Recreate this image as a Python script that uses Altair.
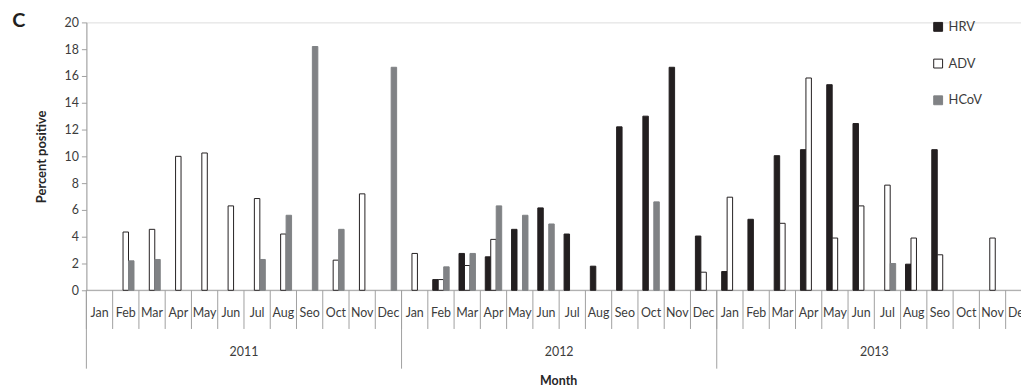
import altair as alt
import pandas as pd

months = ["Jan", "Feb", "Mar", "Apr", "May", "Jun", "Jul", "Aug", "Seo", "Oct", "Nov", "Dec"]
years = ["2011", "2012", "2013"]
series = ["HRV", "ADV", "HCoV"]

hrv = [None, None, None, None, None, None, None, None, None, None, None, None,
       None, 0.8, 2.75, 2.5, 4.55, 6.15, 4.2, 1.8, 12.2, 13.0, 16.65, 4.05,
       1.4, 5.3, 10.05, 10.5, 15.35, 12.45, None, 1.95, 10.5, None, None, None]
adv = [None, 4.35, 4.55, 10.0, 10.25, 6.3, 6.85, 4.2, None, 2.25, 7.2, None,
       2.75, 0.8, 1.85, 3.8, None, None, None, None, None, None, None, 1.35,
       6.95, None, 5.0, 15.85, 3.9, 6.3, 7.85, 3.9, 2.65, None, 3.9, None]
hcov = [None, 2.2, 2.3, None, None, None, 2.3, 5.6, 18.2, 4.55, None, 16.65,
        None, 1.75, 2.75, 6.3, 5.6, 4.95, None, None, None, 6.6, None, None,
        None, None, None, None, None, None, 2.0, None, None, None, None, None]

fills = ["#231f20", "#ffffff", "#808285"]
strokes = ["#231f20", "#231f20", "#808285"]

keys = [f"{y} {m}" for y in years for m in months]
rows = []
for i, k in enumerate(keys):
    for s, vals in zip(series, [hrv, adv, hcov]):
        if vals[i] is not None:
            rows.append({"key": k, "series": s, "value": vals[i]})
bars_df = pd.DataFrame(rows)
labels_df = pd.DataFrame({"key": keys, "month": [m for y in years for m in months]})

n_months = len(keys)
month_bounds = pd.DataFrame({"pos": list(range(0, n_months + 1))})
year_bounds = pd.DataFrame({"pos": list(range(0, n_months + 1, len(months)))})
year_df = pd.DataFrame({"pos": [len(months) * (i + 0.5) for i in range(len(years))], "year": years})
one = pd.DataFrame({"a": [0]})

W = 942      # visible plot width (chart is cut at the right edge, as in the reference)
FULL = 953   # full extent of the 36 months
H = 270
GRAY = "#a0a0a0"
TXT = "#3c3c3c"

xband = alt.X("key:N", scale=alt.Scale(domain=keys, range=[0, FULL], paddingInner=0.375, paddingOuter=0.1875), axis=None)
xq = alt.X("pos:Q", scale=alt.Scale(domain=[0, n_months], range=[0, FULL], nice=False, zero=False), axis=None)

leg = alt.Legend(title=None, orient="none", legendX=852, legendY=-2, symbolType="square",
                 symbolSize=80, symbolStrokeWidth=1, labelFontSize=13, labelColor=TXT,
                 rowPadding=23, padding=0, labelOffset=4)

bars = alt.Chart(bars_df).mark_bar(strokeWidth=1).encode(
    x=xband,
    xOffset=alt.XOffset("series:N", scale=alt.Scale(domain=series, paddingInner=0, paddingOuter=0)),
    y=alt.Y("value:Q", scale=alt.Scale(domain=[0, 20], nice=False),
            axis=alt.Axis(values=list(range(0, 21, 2)), grid=False, title="Percent positive",
                          domainColor=GRAY, tickColor=GRAY, tickSize=5, labelFontSize=12.5,
                          labelColor=TXT, labelPadding=3, titleFontSize=13, titleFontWeight="bold",
                          titleColor="#262626", titleX=-45, titleY=135, titleAngle=-90,
                          titleAlign="center", titleBaseline="middle")),
    fill=alt.Fill("series:N", scale=alt.Scale(domain=series, range=fills), legend=leg),
    stroke=alt.Stroke("series:N", scale=alt.Scale(domain=series, range=strokes), legend=leg),
)

month_text = alt.Chart(labels_df).mark_text(fontSize=12.5, color=TXT, baseline="middle").encode(
    x=xband, y=alt.value(293), text="month:N")

month_rules = alt.Chart(month_bounds).mark_rule(color=GRAY, strokeWidth=1).encode(
    x=xq, y=alt.value(270), y2=alt.value(309))
year_rules = alt.Chart(year_bounds).mark_rule(color=GRAY, strokeWidth=1).encode(
    x=xq, y=alt.value(270), y2=alt.value(349))
year_text = alt.Chart(year_df).mark_text(fontSize=12.5, color=TXT, baseline="middle").encode(
    x=xq, y=alt.value(332), text="year:N")
base_rule = alt.Chart(one).mark_rule(color=GRAY, strokeWidth=1).encode(
    x=alt.value(0), x2=alt.value(FULL), y=alt.value(270))
month_title = alt.Chart(one).mark_text(fontSize=12.5, fontWeight="bold", color="#262626", baseline="middle").encode(
    x=alt.value(476), y=alt.value(361), text=alt.value("Month"))
panel = alt.Chart(one).mark_text(fontSize=20, fontWeight="bold", color="#231f20", baseline="middle").encode(
    x=alt.value(-68), y=alt.value(-1), text=alt.value("C"))

chart = alt.layer(base_rule, month_rules, year_rules, bars, month_text, year_text, month_title, panel).resolve_scale(
    x="independent"
).properties(
    width=W, height=H,
    padding={"left": 79, "top": 13, "right": 0, "bottom": 100},
    autosize=alt.AutoSizeParams(type="none"),
).configure_view(stroke=None).configure(font="Lato")

chart.save("out.html", embed_options={"renderer": "svg", "actions": False})
